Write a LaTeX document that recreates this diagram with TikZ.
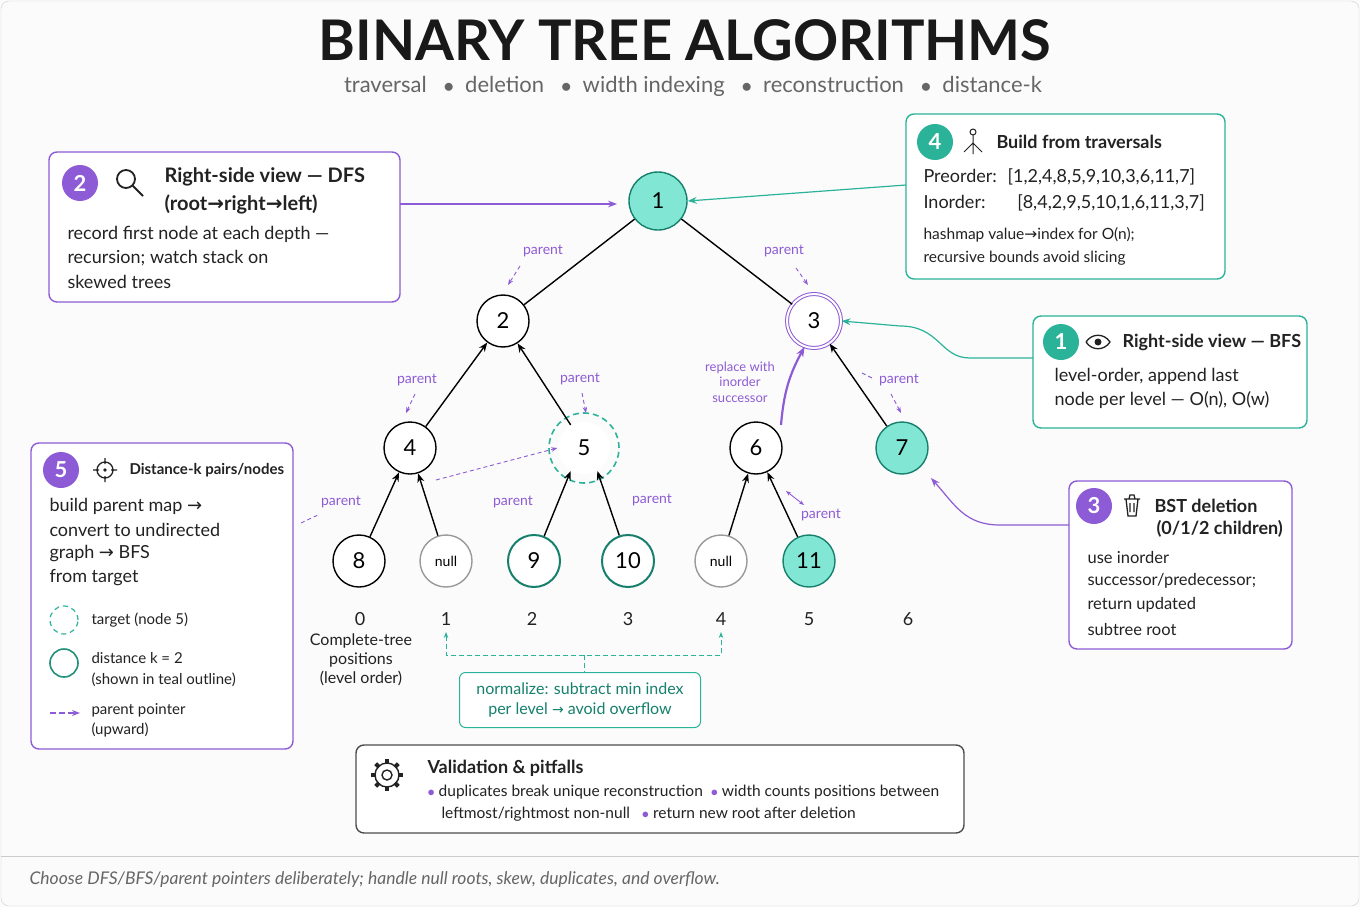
\documentclass[tikz,border=0pt]{standalone}
\usepackage{fontspec}
\setmainfont{Lato}
\newfontfamily\symfont{DejaVu Sans}
\usetikzlibrary{arrows.meta,positioning}
\definecolor{purp}{HTML}{8E5BD6}
\definecolor{teal1}{HTML}{2BB39A}
\definecolor{tealfill}{HTML}{82E6D5}
\definecolor{tealdark}{HTML}{16806D}
\definecolor{txt}{HTML}{222222}
\definecolor{sub}{HTML}{666666}
\newcommand{\fs}[1]{\fontsize{#1pt}{\dimexpr #1pt*6/5\relax}\selectfont}
\tikzset{
  tnode/.style={circle,draw=black,line width=1.4pt,minimum size=52pt,inner sep=0pt,font=\fs{22},fill=white},
  nullnode/.style={tnode,draw=gray!80,font=\fs{14}},
  badge/.style={circle,minimum size=36pt,inner sep=0pt,text=white,font=\bfseries\fs{22}},
  pbox/.style={draw=purp,line width=1.4pt,rounded corners=8pt,fill=white},
  tbox/.style={draw=teal1,line width=1.4pt,rounded corners=8pt,fill=white},
  plabel/.style={text=purp,font=\fs{14}},
  body/.style={anchor=west,text=txt,font=\fs{18}},
  head/.style={anchor=west,text=txt,font=\bfseries\fs{18}},
  up/.style={-{Stealth[length=9pt,width=7pt]},line width=1.4pt},
  pdash/.style={purp,dash pattern=on 4pt off 3pt,line width=0.9pt,-{Stealth[length=6pt]}},
}
\begin{document}
\begin{tikzpicture}[x=1pt,y=-1pt]
\useasboundingbox (0,0) rectangle (1360,907);
\fill[white!97!gray] (0,0) rectangle (1360,907);
\draw[gray!40,rounded corners=8pt] (1,1) rectangle (1359,906);

% title
\node[font=\bfseries\fs{56},text=black!90,inner sep=0pt] (title) at (685,40) {BINARY TREE ALGORITHMS};
\node[font=\fs{22},text=sub,inner sep=0pt] (subtitle) at (693,86) {traversal \ \ $\bullet$\ \ deletion \ \ $\bullet$\ \ width indexing \ \ $\bullet$\ \ reconstruction \ \ $\bullet$\ \ distance-k};

% tree
\node[tnode,fill=tealfill,draw=tealdark,minimum size=58pt] (n1) at (658,201) {1};
\node[tnode] (n2) at (503,321) {2};
\node[tnode,draw=purp,double=white,double distance=2pt,line width=1pt,minimum size=54pt] (n3) at (814,321) {3};
\node[tnode] (n4) at (410,448) {4};
\node[tnode,draw=none] (n5) at (584,448) {5};
\draw[teal1,dash pattern=on 6pt off 4pt,line width=1.6pt] (n5) circle (35pt);
\node[tnode] (n6) at (756,448) {6};
\node[tnode,fill=tealfill,draw=tealdark] (n7) at (902,448) {7};
\node[tnode] (n8) at (359,561) {8};
\node[nullnode] (na) at (446,561) {null};
\node[tnode,draw=tealdark,line width=2pt] (n9) at (534,561) {9};
\node[tnode,draw=tealdark,line width=2pt] (n10) at (628,561) {10};
\node[nullnode] (nb) at (721,561) {null};
\node[tnode,fill=tealfill,draw=tealdark] (n11) at (809,561) {11};

\draw[line width=1.4pt] (n1) -- (n2);
\draw[line width=1.4pt] (n1) -- (n3);
\draw[up] (n4) -- (n2);
\draw[up] (n5.120) -- (n2);
\draw[up] (n7) -- (n3);
\draw[up] (n8) -- (n4);
\draw[up] (na) -- (n4);
\draw[up] (n9) -- (n5.240);
\draw[up] (n10) -- (n5.300);
\draw[up] (nb) -- (n6);
\draw[up] (n11) -- (n6);
\draw[purp,line width=2.2pt,-{Stealth[length=10pt]}] (781,425) to[bend left=12] (n3.250);

% parent hints
\node[plabel] (p1) at (543,251) {parent};
\draw[pdash] (520,266) -- (508,285);
\node[plabel] (p2) at (784,251) {parent};
\draw[pdash] (796,268) -- (808,285);
\node[plabel] (p3) at (417,380) {parent};
\draw[pdash] (415,394) -- (406,413);
\node[plabel] (p4) at (580,379) {parent};
\draw[pdash] (582,393) -- (586,413);
\node[plabel] (p5) at (899,380) {parent};
\draw[purp,dash pattern=on 4pt off 3pt,line width=0.9pt] (862,373) -- (874,379);
\draw[pdash] (891,394) -- (901,413);
\node[plabel] (p6) at (341,502) {parent};
\draw[purp,dash pattern=on 4pt off 3pt,line width=0.9pt] (301,523) -- (320,514);
\node[plabel] (p7) at (513,502) {parent};
\node[plabel] (p8) at (652,500) {parent};
\node[plabel] (p9) at (821,515) {parent};
\draw[purp,line width=0.9pt,{Stealth[length=5pt]}-{Stealth[length=5pt]}] (786,491) -- (804,505);
\coordinate (d4) at (436,480);
\draw[pdash] (d4) -- (n5.west);
\node[plabel,font=\fs{13},align=center] (succ) at (740,382) {replace with\\inorder\\successor};

% positions
\foreach \x/\i in {360/0,446/1,532/2,628/3,721/4,809/5,908/6}
  \node[font=\fs{18},text=txt] (pos\i) at (\x,619) {\i};
\node[font=\fs{16},text=txt,align=center] (postext) at (361,660) {Complete-tree\\positions\\(level order)};
\draw[teal1,dash pattern=on 5pt off 3pt,line width=1pt,{Stealth[length=6pt]}-{Stealth[length=6pt]}] (446,632) -- (446,655) -- (721,655) -- (721,632);
\draw[teal1,dash pattern=on 5pt off 3pt,line width=1pt] (584,655) -- (584,673);
\node[draw=teal1,line width=1pt,rounded corners=6pt,fill=white,minimum width=241pt,minimum height=55pt,align=center,text=tealdark,font=\fs{16}] (norm) at (580,700) {normalize: subtract min index\\per level {\symfont\fs{14}→} avoid overflow};

% box 2: DFS
\draw[pbox] (49,152) rectangle (400,302);
\node[badge,fill=purp] (b2) at (80,183) {2};
\draw[line width=1.8pt,txt] (126,179) circle (9pt) (133,186) -- (143,196);
\node[head,font=\bfseries\fs{20}] at (161,177) {Right-side view — DFS};
\node[head,font=\bfseries\fs{20}] at (161,204) {(root{\symfont→}right{\symfont→}left)};
\node[body] at (64,234) {record first node at each depth —};
\node[body] at (64,258) {recursion; watch stack on};
\node[body] at (64,282) {skewed trees};
\coordinate (c2) at (400,204);
\coordinate (e2) at (617,204);
\draw[purp,line width=1.2pt,-{Stealth[length=9pt]}] (c2) -- (e2);

% box 4: build
\draw[tbox] (906,114) rectangle (1225,279);
\node[badge,fill=teal1] (b4) at (935,142) {4};
\draw[txt,line width=1pt] (973,132) circle (3pt) (973,135) -- (973,143) (973,143) -- (964,152) (973,143) -- (982,152) (973,143) -- (973,154);
\node[head] at (993,142) {Build from traversals};
\node[body] at (920,177) {Preorder: \ [1,2,4,8,5,9,10,3,6,11,7]};
\node[body] at (920,203) {Inorder: \quad\ \,[8,4,2,9,5,10,1,6,11,3,7]};
\node[body,font=\fs{15.5}] at (920,235) {hashmap value{\symfont→}index for O(n);};
\node[body,font=\fs{15.5}] at (920,258) {recursive bounds avoid slicing};
\coordinate (c4) at (906,185);
\draw[teal1,line width=1.2pt,-{Stealth[length=9pt]}] (c4) -- (n1.east);

% box 1: BFS
\draw[tbox] (1033,316) rectangle (1307,428);
\node[badge,fill=teal1] (b1) at (1061,342) {1};
\draw[txt,line width=1.3pt] (1086,342) .. controls (1092,333) and (1104,333) .. (1110,342) .. controls (1104,351) and (1092,351) .. (1086,342);
\fill[txt] (1098,342) circle (3.5pt);
\node[head] at (1119,342) {Right-side view — BFS};
\node[body] at (1051,376) {level-order, append last};
\node[body] at (1051,400) {node per level — O(n), O(w)};
\coordinate (c1) at (1033,358);
\draw[teal1,line width=1.2pt,-{Stealth[length=9pt]}] (c1) -- (970,358) .. controls (940,358) and (940,326) .. (900,326) -- (n3.east);

% box 3: deletion
\draw[pbox] (1069,481) rectangle (1292,649);
\node[badge,fill=purp] (b3) at (1094,506) {3};
\draw[txt,line width=1.3pt] (1124,499) -- (1140,499) (1129,499) -- (1130,495) -- (1134,495) -- (1135,499)
  (1126,499) -- (1128,516) -- (1136,516) -- (1138,499) (1130,503) -- (1130,512) (1134,503) -- (1134,512);
\node[head] at (1151,506) {BST deletion};
\node[head] at (1153,529) {(0/1/2 children)};
\node[body,font=\fs{16.5}] at (1084,557) {use inorder};
\node[body,font=\fs{16.5}] at (1084,581) {successor/predecessor;};
\node[body,font=\fs{16.5}] at (1084,605) {return updated};
\node[body,font=\fs{16.5}] at (1084,629) {subtree root};
\coordinate (c3) at (1069,525);
\draw[purp,line width=1.2pt,-{Stealth[length=9pt]}] (c3) -- (1000,525) .. controls (965,525) and (955,505) .. (931,478);

% box 5: distance-k
\draw[pbox] (31,443) rectangle (293,749);
\node[badge,fill=purp] (b5) at (61,470) {5};
\draw[txt,line width=1.3pt] (105,470) circle (8pt) (93,470) -- (99,470) (111,470) -- (117,470) (105,458) -- (105,464) (105,476) -- (105,482);
\fill[txt] (105,470) circle (1.8pt);
\node[head,font=\bfseries\fs{15}] at (126,470) {Distance-k pairs/nodes};
\node[body] at (46,506) {build parent map {\symfont→}};
\node[body] at (46,530) {convert to undirected};
\node[body] at (46,554) {graph {\symfont→} BFS};
\node[body] at (46,578) {from target};
\draw[teal1,dash pattern=on 5pt off 4pt,line width=1.2pt] (64,620) circle (14pt);
\node[body,font=\fs{15}] at (88,620) {target (node 5)};
\draw[teal1!80!black,line width=1.6pt] (64,663) circle (14pt);
\node[body,font=\fs{15}] at (88,658) {distance k = 2};
\node[body,font=\fs{15}] at (88,680) {(shown in teal outline)};
\coordinate (la) at (50,713);
\coordinate (lb) at (80,713);
\draw[purp,dash pattern=on 6pt off 3pt,line width=1.4pt,-{Stealth[length=8pt]}] (la) -- (lb);
\node[body,font=\fs{15}] at (88,710) {parent pointer};
\node[body,font=\fs{15}] at (88,730) {(upward)};

% validation box
\draw[draw=black!70,line width=1.4pt,rounded corners=8pt,fill=white] (356,745) rectangle (964,833);
\draw[txt,line width=1.4pt] (387,775) circle (5pt) (387,775) circle (12pt);
\foreach \a in {0,45,...,315} \draw[txt,line width=4pt] (387,775) ++(\a:11) -- ++(\a:5);
\node[head] at (424,768) {Validation \& pitfalls};
\node[body,font=\fs{15.5}] at (424,792) {{\color{purp}$\bullet$}\ duplicates break unique reconstruction \ {\color{purp}$\bullet$}\ width counts positions between};
\node[body,font=\fs{15.5}] at (438,814) {leftmost/rightmost non-null \ \ {\color{purp}$\bullet$}\ return new root after deletion};

% footer
\draw[gray!40] (1,856) -- (1359,856);
\node[anchor=west,font=\itshape\fs{17.5},text=sub] (foot) at (26,880) {Choose DFS/BFS/parent pointers deliberately; handle null roots, skew, duplicates, and overflow.};
\end{tikzpicture}
\end{document}
